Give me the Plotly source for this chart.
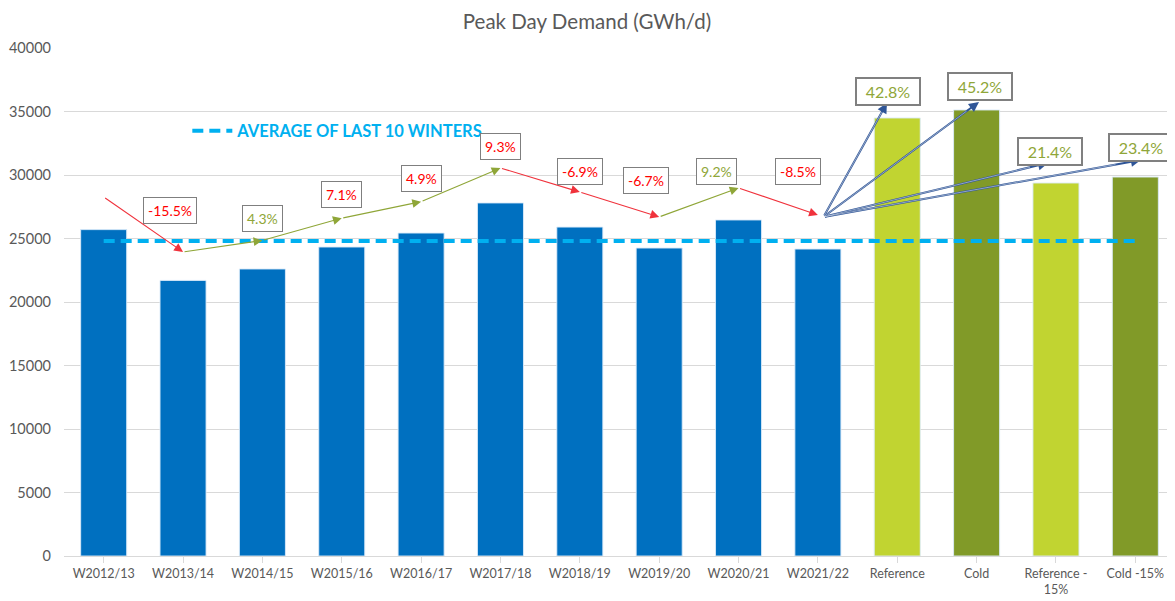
import plotly.graph_objects as go

# ---------------- data ----------------
categories = ["W2012/13", "W2013/14", "W2014/15", "W2015/16", "W2016/17",
              "W2017/18", "W2018/19", "W2019/20", "W2020/21", "W2021/22",
              "Reference", "Cold", "Reference -<br>15%", "Cold -15%"]
demand = [25700, 21700, 22600, 24330, 25430, 27800, 25900, 24250, 26460, 24170,
          34490, 35120, 29370, 29840]
bar_groups = ["hist"] * 10 + ["ref", "cold", "ref", "cold"]
average_last_10 = 24800

# year-on-year change labels and their trend path
change_labels = ["-15.5%", "4.3%", "7.1%", "4.9%", "9.3%", "-6.9%", "-6.7%", "9.2%", "-8.5%"]
change_label_colors = ["red", "green", "red", "red", "red", "red", "red", "green", "red"]
change_label_x = [0.83, 2.0, 3.0, 4.0, 5.0, 6.0, 6.83, 7.72, 8.75]
change_label_y = [27200, 26600, 28450, 29700, 32280, 30240, 29550, 30240, 30310]
trend_x = [0, 1, 2, 3, 4, 5, 6, 7, 8, 9]
trend_y = [28270, 23940, 24850, 26600, 27900, 30550, 28660, 26700, 28980, 26850]

# scenario changes vs W2021/22
scenario_labels = ["42.8%", "45.2%", "21.4%", "23.4%"]
scenario_label_x = [9.88, 11.04, 11.92, 13.07]
scenario_label_y = [36610, 36930, 31890, 32200]
scenario_origin = (9.07, 26700)
scenario_arrow_x = [9.87, 11.03, 11.9, 13.07]
scenario_arrow_y = [35670, 35750, 30950, 31180]

# ---------------- styles ----------------
group_colors = {"hist": "#0070C0", "ref": "#C1D431", "cold": "#819A28"}
text_colors = {"red": "#FF0000", "green": "#8FA638"}
arrow_colors = {"red": "#F0323C", "green": "#8FA638", "blue": "#2F5597"}
FONT = "Lato, 'Open Sans', sans-serif"

# page body has an 8px margin: shift everything by it
OFF = 8
W, H = 1175 - OFF, 601 - OFF
ML, MT, MB = 64 - OFF, 48 - OFF, 45

fig = go.Figure()

xs = list(range(len(categories)))
fig.add_trace(go.Bar(
    x=xs, y=demand, width=0.58,
    marker=dict(color=[group_colors[g] for g in bar_groups],
                line=dict(color="rgba(220,235,250,0.9)", width=1)),
    showlegend=False, hoverinfo="skip",
))

fig.add_trace(go.Scatter(
    x=[0, len(categories) - 1], y=[average_last_10] * 2, mode="lines",
    line=dict(color="#00B0F0", width=4, dash="11px,6px"),
    name="<b>AVERAGE OF LAST 10 WINTERS</b>", showlegend=True, hoverinfo="skip",
))

annotations = []
# trend arrows
for i in range(1, len(trend_x)):
    col = arrow_colors["red"] if trend_y[i] < trend_y[i - 1] else arrow_colors["green"]
    annotations.append(dict(
        x=trend_x[i], y=trend_y[i], ax=trend_x[i - 1], ay=trend_y[i - 1],
        xref="x", yref="y", axref="x", ayref="y", text="", showarrow=True,
        arrowhead=2, arrowsize=1.6, arrowwidth=1.1, arrowcolor=col,
    ))
# scenario arrows (double line look)
for xa, ya in zip(scenario_arrow_x, scenario_arrow_y):
    annotations.append(dict(
        x=xa, y=ya, ax=scenario_origin[0], ay=scenario_origin[1],
        xref="x", yref="y", axref="x", ayref="y", text="", showarrow=True,
        arrowhead=2, arrowsize=1.0, arrowwidth=2.0, arrowcolor=arrow_colors["blue"],
    ))
for xa, ya in zip(scenario_arrow_x, scenario_arrow_y):
    annotations.append(dict(
        x=scenario_origin[0] + (xa - scenario_origin[0]) * 0.92,
        y=scenario_origin[1] + (ya - scenario_origin[1]) * 0.92,
        ax=scenario_origin[0], ay=scenario_origin[1],
        xref="x", yref="y", axref="x", ayref="y", text="", showarrow=True,
        arrowhead=0, arrowwidth=0.6, arrowcolor="rgba(255,255,255,0.8)",
    ))
# change labels
for t, c, x, y in zip(change_labels, change_label_colors, change_label_x, change_label_y):
    annotations.append(dict(
        x=x, y=y, xref="x", yref="y", text=t, showarrow=False,
        font=dict(family=FONT, size=14, color=text_colors[c]),
        bgcolor="white", bordercolor="#7F7F7F", borderwidth=1, borderpad=4,
    ))
for t, x, y in zip(scenario_labels, scenario_label_x, scenario_label_y):
    annotations.append(dict(
        x=x, y=y, xref="x", yref="y", text=t, showarrow=False, width=56,
        font=dict(family=FONT, size=16, color=text_colors["green"]),
        bgcolor="white", bordercolor="#808080", borderwidth=2, borderpad=3,
    ))

plot_h = H - MT - MB
fig.update_layout(
    width=W, height=H,
    margin=dict(l=ML, r=0, t=MT, b=MB, autoexpand=False),
    paper_bgcolor="white", plot_bgcolor="white",
    font=dict(family=FONT, color="#595959"),
    title=dict(text="Peak Day Demand (GWh/d)", x=(587 - OFF) / W, xref="container",
               xanchor="center", y=1 - 14 / H, yref="container", yanchor="middle",
               font=dict(family=FONT, size=20.5, color="#595959")),
    showlegend=True,
    legend=dict(x=0.111, y=1 - (131 - 48) / plot_h, xref="paper", yref="paper",
                xanchor="left", yanchor="middle", bgcolor="rgba(0,0,0,0)",
                font=dict(family=FONT, size=16.5, color="#00B0F0"),
                itemwidth=40),
    annotations=annotations,
)
fig.update_xaxes(
    tickmode="array", tickvals=xs, ticktext=categories,
    range=[-0.5, len(categories) - 0.5],
    showline=True, linecolor="#D9D9D9", linewidth=1,
    ticks="outside", ticklen=6, tickcolor="#D9D9D9",
    showgrid=False, zeroline=False, automargin=False,
    tickfont=dict(family=FONT, size=12.5, color="#595959"),
)
fig.update_yaxes(
    range=[0, 40000], dtick=5000, tickformat="d", showgrid=True, gridcolor="#D9D9D9", gridwidth=1,
    zeroline=False, showline=False, ticks="", ticklabelstandoff=12, automargin=False,
    tickfont=dict(family=FONT, size=14.5, color="#595959"),
)

fig.write_html("out.html")
